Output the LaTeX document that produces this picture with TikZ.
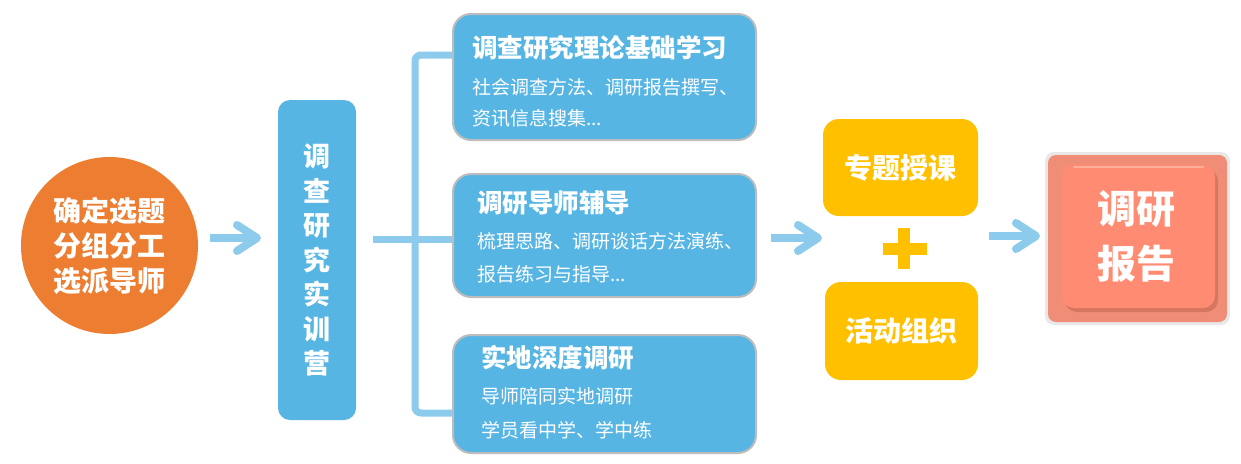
\documentclass[tikz,border=0pt]{standalone}
\usepackage{fontspec}
\newfontfamily\cjk{Noto Sans CJK SC}
\usetikzlibrary{arrows.meta,shadows}
\definecolor{boxblue}{HTML}{57B5E4}
\definecolor{boxborder}{HTML}{BDBDBD}
\definecolor{arrowblue}{HTML}{8CCBEC}
\definecolor{circorange}{HTML}{ED7D31}
\definecolor{goldy}{HTML}{FFC000}
\definecolor{rimgray}{HTML}{E8E8E8}
\definecolor{frame}{HTML}{F08D77}
\definecolor{face}{HTML}{FF8C72}
\definecolor{shadowc}{HTML}{D57660}
\definecolor{hilite}{HTML}{FFAE98}
\begin{document}
\begin{tikzpicture}[x=1pt,y=-1pt,
  every node/.style={font=\cjk, text=white, inner sep=0pt},
  bluebox/.style={draw=boxborder, line width=2pt, fill=boxblue, rounded corners=18pt, minimum width=303pt},
  ttl/.style={anchor=west, font=\cjk\bfseries\fontsize{25.5}{30}\selectfont},
  sub/.style={anchor=west, font=\cjk\fontsize{19}{22}\selectfont},
  goldbox/.style={fill=goldy, rounded corners=16pt, font=\cjk\bfseries\fontsize{28}{32}\selectfont},
  flowarrow/.style={draw=arrowblue, line width=8pt, -{Straight Barb[length=20pt,width=26pt,round]}},
  bracketline/.style={draw=arrowblue, line width=7pt, rounded corners=6pt}]
\useasboundingbox (0,0) rectangle (1241,463);

% circle
\node[circle, fill=circorange, minimum size=177pt] (circ) at (109.5,245.5) {};
\node[align=center, font=\cjk\bfseries\fontsize{28}{35}\selectfont] (circt) at (109.5,245.5) {确定选题\\分组分工\\选派导师};

% tall box
\node[fill=boxblue, rounded corners=12pt, minimum width=78pt, minimum height=320pt] (tall) at (317,260) {};
\node[align=center, font=\cjk\bfseries\fontsize{27}{34.5}\selectfont] (tallt) at (317,260) {调\\查\\研\\究\\实\\训\\营};

% three blue boxes
\node[bluebox, minimum height=126pt] (b1) at (604.5,77) {};
\node[ttl] (t1) at (472,47.5) {调查研究理论基础学习};
\node[sub] (s1a) at (472,87) {社会调查方法、调研报告撰写、};
\node[sub] (s1b) at (472,118) {资讯信息搜集...};

\node[bluebox, minimum height=123pt] (b2) at (604.5,235.5) {};
\node[ttl] (t2) at (477,203) {调研导师辅导};
\node[sub] (s2a) at (477,241.5) {梳理思路、调研谈话方法演练、};
\node[sub] (s2b) at (477,274) {报告练习与指导...};

\node[bluebox, minimum height=118pt] (b3) at (604.5,394) {};
\node[ttl] (t3) at (481,358) {实地深度调研};
\node[sub] (s3a) at (481,396.5) {导师陪同实地调研};
\node[sub] (s3b) at (481,430) {学员看中学、学中练};

% bracket
\coordinate (bl) at (373,239);
\coordinate (btop) at (415,55);
\coordinate (bbot) at (415,413);
\draw[bracketline] (bl) -- (b2.west |- bl);
\draw[bracketline] (b1.west |- btop) -- (btop) -- (bbot) -- (b3.west |- bbot);

% gold boxes
\node[goldbox, minimum width=155pt, minimum height=97pt] (g1) at (900.5,167.5) {专题授课};
\node[goldbox, minimum width=153pt, minimum height=98pt] (g2) at (901.5,331) {活动组织};
\fill[goldy] (883,243) rectangle (927,255);
\fill[goldy] (898,228) rectangle (910,269);

% report
\node[fill=rimgray, rounded corners=9pt, minimum width=185pt, minimum height=173pt] (rrim) at (1137.5,238.5) {};
\node[fill=frame, rounded corners=8pt, minimum width=179pt, minimum height=167pt] (rframe) at (1137.5,238.5) {};
\node[fill=face, rounded corners=12pt, minimum width=153pt, minimum height=143pt,
      drop shadow={shadow xshift=3pt, shadow yshift=-4pt, fill=shadowc, opacity=1}] (rep) at (1138.5,236.5) {};
\draw[hilite, line width=2pt, line cap=round] (1074,166.5) -- (1203,166.5);
\node[align=center, font=\cjk\bfseries\fontsize{39}{55}\selectfont] (rept) at (1136,236) {调研\\报告};

% arrows
\coordinate (a1s) at (210,238); \coordinate (a1e) at (261,238);
\coordinate (a2s) at (771,238); \coordinate (a2e) at (822,238);
\coordinate (a3s) at (989,236); \coordinate (a3e) at (1040,236);
\draw[flowarrow] (a1s) -- (a1e);
\draw[flowarrow] (a2s) -- (a2e);
\draw[flowarrow] (a3s) -- (a3e);
\end{tikzpicture}
\end{document}
